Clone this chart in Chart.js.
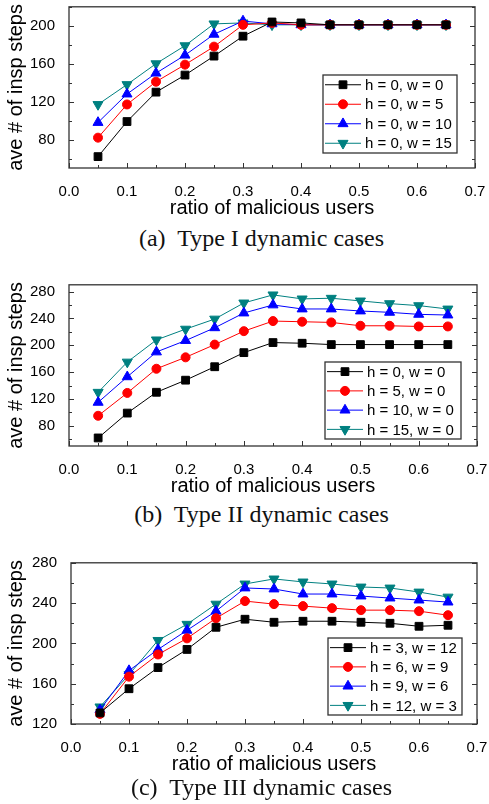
<!DOCTYPE html>
<html lang="en">
<head>
<meta charset="UTF-8">
<title>Inspection steps vs ratio of malicious users</title>
<script src="https://cdn.jsdelivr.net/npm/chart.js@4.4.1/dist/chart.umd.min.js"></script>
<style>
    body {
        margin: 0;
        background: #fff;
        width: 489px;
        height: 804px;
        position: relative;
        overflow: hidden;
    }
    .panel {
        position: absolute;
        left: 0;
    }
    .caption {
        position: absolute;
        left: 17px;
        width: 489px;
        text-align: center;
        font-family: 'Liberation Serif', serif;
        font-size: 24px;
        color: #111;
        line-height: 28px;
        white-space: nowrap;
    }
</style>
</head>
<body>
<canvas id="chart-a" class="panel" width="489" height="220" style="top:0px"></canvas>
<div class="caption" style="top:224px">(a)&nbsp; Type I dynamic cases</div>
<canvas id="chart-b" class="panel" width="489" height="220" style="top:278px"></canvas>
<div class="caption" style="top:500px">(b)&nbsp; Type II dynamic cases</div>
<canvas id="chart-c" class="panel" width="489" height="220" style="top:556px"></canvas>
<div class="caption" style="top:773px">(c)&nbsp; Type III dynamic cases</div>
<script>
// x values shared by all three panels
const ratios = [0.05, 0.1, 0.15, 0.2, 0.25, 0.3, 0.35, 0.4, 0.45, 0.5, 0.55, 0.6, 0.65];
const xTicks = [0, 0.1, 0.2, 0.3, 0.4, 0.5, 0.6, 0.7];
const xMinor = [0.05, 0.15, 0.25, 0.35, 0.45, 0.55, 0.65];

// (a) Type I
const labelsA = ['h = 0, w = 0', 'h = 0, w = 5', 'h = 0, w = 10', 'h = 0, w = 15'];
const a_w0  = [62, 99, 130, 148, 168, 189, 204, 203, 201, 201, 201, 201, 201];
const a_w5  = [82, 117, 141, 159, 178, 201, 203, 201, 201, 201, 201, 201, 201];
const a_w10 = [98, 128, 150, 169, 191, 205, 202, 201, 201, 201, 201, 201, 201];
const a_w15 = [117, 138, 160, 179, 202, 203, 201, 201, 201, 201, 201, 201, 201];
const yTicksA = [80, 120, 160, 200];
const yMinorA = [60, 100, 140, 180, 220];

// (b) Type II
const labelsB = ['h = 0, w = 0', 'h = 5, w = 0', 'h = 10, w = 0', 'h = 15, w = 0'];
const b_h0  = [62, 99, 130, 148, 168, 189, 204, 203, 201, 201, 201, 201, 201];
const b_h5  = [95, 129, 165, 182, 201, 221, 236, 235, 234, 229, 229, 228, 228];
const b_h10 = [115, 153, 190, 207, 226, 248, 260, 254, 254, 251, 249, 246, 245];
const b_h15 = [130, 175, 208, 224, 239, 263, 275, 269, 270, 266, 262, 259, 254];
const yTicksB = [80, 120, 160, 200, 240, 280];
const yMinorB = [60, 100, 140, 180, 220, 260];

// (c) Type III
const labelsC = ['h = 3, w = 12', 'h = 6, w = 9', 'h = 9, w = 6', 'h = 12, w = 3'];
const c_h3  = [131, 155, 176, 194, 216, 224, 221, 222, 222, 221, 220, 217, 218];
const c_h6  = [130, 167, 189, 205, 225, 242, 239, 237, 235, 233, 233, 232, 228];
const c_h9  = [134, 173, 194, 213, 232, 255, 254, 249, 249, 247, 245, 243, 241];
const c_h12 = [137, 169, 203, 219, 239, 259, 264, 261, 259, 256, 255, 251, 246];
const yTicksC = [120, 160, 200, 240, 280];
const yMinorC = [140, 180, 220, 260];

const colors = ['#000000', '#ff0000', '#0000ff', '#008080'];
const styles = ['rect', 'circle', 'triangle', 'triangle'];
const radii = [5.5, 4.5, 5.8, 5.8];
const rotations = [0, 0, 0, 180];

const sansFont = "'Liberation Sans', Arial, sans-serif";
const frameColor = '#333';

// frame with inward ticks on bottom, left and right
const framePlugin = {
    id: 'frame',
    afterDatasetsDraw(chart, args, opts) {
        const ctx = chart.ctx;
        const a = chart.chartArea;
        const xs = chart.scales.x, ys = chart.scales.y;
        ctx.save();
        ctx.strokeStyle = frameColor;
        ctx.lineWidth = 1.3;
        ctx.strokeRect(a.left, a.top, a.right - a.left, a.bottom - a.top);
        ctx.lineWidth = 1;
        ctx.beginPath();
        const tickX = (v, len) => {
            const px = Math.round(xs.getPixelForValue(v)) + 0.5;
            ctx.moveTo(px, a.bottom);
            ctx.lineTo(px, a.bottom - len);
        };
        const tickY = (v, len) => {
            const py = Math.round(ys.getPixelForValue(v)) + 0.5;
            ctx.moveTo(a.left, py);
            ctx.lineTo(a.left + len, py);
            ctx.moveTo(a.right, py);
            ctx.lineTo(a.right - len, py);
        };
        xTicks.forEach(v => tickX(v, 5));
        xMinor.forEach(v => tickX(v, 3));
        opts.yTicks.forEach(v => tickY(v, 5));
        opts.yMinor.forEach(v => tickY(v, 3));
        ctx.stroke();
        ctx.restore();
    }
};

// boxed legend: line + marker + text per row
const boxLegend = {
    id: 'boxLegend',
    afterDraw(chart, args, opts) {
        const ctx = chart.ctx;
        const a = chart.chartArea;
        const sets = chart.data.datasets;
        const x0 = a.right - opts.right - opts.width;
        const y0 = a.bottom - opts.bottom - opts.height;
        const rowH = opts.height / sets.length;
        ctx.save();
        ctx.fillStyle = '#fff';
        ctx.fillRect(x0, y0, opts.width, opts.height);
        ctx.strokeStyle = frameColor;
        ctx.lineWidth = 1.3;
        ctx.strokeRect(x0, y0, opts.width, opts.height);
        ctx.font = '15px ' + sansFont;
        ctx.textBaseline = 'middle';
        sets.forEach((ds, i) => {
            const cy = y0 + rowH * (i + 0.5);
            ctx.strokeStyle = ds.borderColor;
            ctx.lineWidth = 1;
            ctx.beginPath();
            ctx.moveTo(x0 + 2, cy);
            ctx.lineTo(x0 + 38, cy);
            ctx.stroke();
            ctx.fillStyle = ds.pointBackgroundColor;
            Chart.helpers.drawPoint(ctx, {
                pointStyle: ds.pointStyle,
                rotation: ds.pointRotation,
                radius: ds.pointRadius,
                borderWidth: 1
            }, x0 + 20, cy);
            ctx.fillStyle = '#000';
            ctx.fillText(ds.label, x0 + 42, cy + 1);
        });
        ctx.restore();
    }
};

function makeChart(id, labels, series, yMin, yMax, yTicks, yMinor, leftWidth, rightPad, legend) {
    const datasets = series.map((vals, i) => ({
        label: labels[i],
        data: vals.map((v, k) => ({ x: ratios[k], y: v })),
        borderColor: colors[i],
        backgroundColor: colors[i],
        pointBackgroundColor: colors[i],
        pointBorderColor: colors[i],
        pointStyle: styles[i],
        pointRadius: radii[i],
        pointRotation: rotations[i],
        pointBorderWidth: 1,
        borderWidth: 1,
        tension: 0
    }));
    return new Chart(document.getElementById(id), {
        type: 'line',
        data: { datasets: datasets },
        plugins: [framePlugin, boxLegend],
        options: {
            responsive: false,
            animation: false,
            layout: { padding: { top: 6, right: rightPad, left: 0, bottom: 0 } },
            plugins: {
                legend: { display: false },
                tooltip: { enabled: false },
                frame: { yTicks: yTicks, yMinor: yMinor },
                boxLegend: legend
            },
            scales: {
                x: {
                    type: 'linear',
                    min: 0,
                    max: 0.7,
                    afterBuildTicks: s => { s.ticks = xTicks.map(v => ({ value: v })); },
                    afterFit: s => { s.height = 52; s.paddingLeft = 0; s.paddingRight = 0; },
                    grid: { display: false },
                    border: { display: false },
                    ticks: {
                        color: '#000',
                        padding: 7,
                        maxRotation: 0,
                        font: { family: sansFont, size: 15 },
                        callback: v => v.toFixed(1)
                    },
                    title: {
                        display: true,
                        text: 'ratio of malicious users',
                        color: '#000',
                        padding: 0,
                        font: { family: sansFont, size: 20 }
                    }
                },
                y: {
                    type: 'linear',
                    min: yMin,
                    max: yMax,
                    afterBuildTicks: s => { s.ticks = yTicks.map(v => ({ value: v })); },
                    afterFit: s => { s.width = leftWidth; s.paddingTop = 0; s.paddingBottom = 0; },
                    grid: { display: false },
                    border: { display: false },
                    ticks: {
                        color: '#000',
                        padding: 6,
                        font: { family: sansFont, size: 15 }
                    },
                    title: {
                        display: true,
                        text: 'ave # of insp steps',
                        color: '#000',
                        padding: { top: 4, bottom: 0 },
                        font: { family: sansFont, size: 20 }
                    }
                }
            }
        }
    });
}

makeChart('chart-a', labelsA, [a_w0, a_w5, a_w10, a_w15], 50, 220, yTicksA, yMinorA, 69, 14,
    { width: 134, height: 78, right: 18, bottom: 15 });
makeChart('chart-b', labelsB, [b_h0, b_h5, b_h10, b_h15], 50, 290, yTicksB, yMinorB, 69, 12,
    { width: 136, height: 77, right: 16, bottom: 7 });
makeChart('chart-c', labelsC, [c_h3, c_h6, c_h9, c_h12], 120, 280, yTicksC, yMinorC, 71, 12,
    { width: 134, height: 77, right: 15, bottom: 9 });
</script>
</body>
</html>
